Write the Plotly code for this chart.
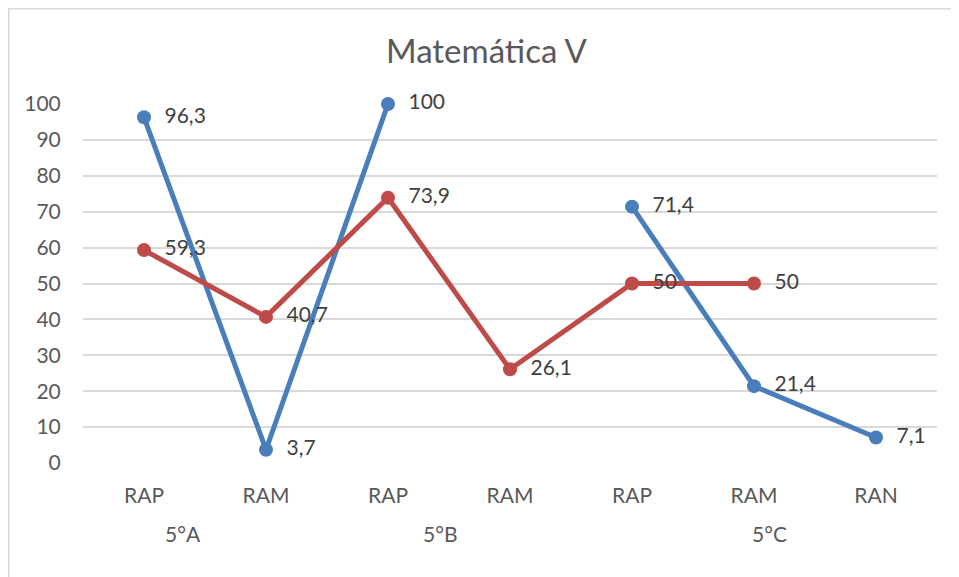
import plotly.graph_objects as go

categories = ["RAP", "RAM", "RAP", "RAM", "RAP", "RAM", "RAN"]
groups = ["5°A", "5°B", "5°C"]
series_blue = [96.3, 3.7, 100, None, 71.4, 21.4, 7.1]
series_red = [59.3, 40.7, 73.9, 26.1, 50, 50, None]

x = list(range(len(categories)))

def fmt(v):
    if v is None:
        return ""
    s = ("%g" % v).replace(".", ",")
    return "  " + s

FONT = "Lato"
BLUE = "#4A7EBB"
RED = "#BE4B48"

# page has an 8px body margin; figure is sized to fit the window
OFF = 8
W, H = 959 - OFF, 577 - OFF
L, T = 83 - OFF, 104 - OFF
PW, PH = 854, 359
R = W - L - PW
B = H - T - PH

def px(sx):
    return (sx - OFF - L) / PW

def py(sy):
    return (T + PH - (sy - OFF)) / PH

fig = go.Figure()
for vals, col in [(series_blue, BLUE), (series_red, RED)]:
    fig.add_trace(go.Scatter(
        x=x, y=vals, mode="lines+markers+text",
        line=dict(color=col, width=5),
        marker=dict(color=col, size=14),
        text=[fmt(v) for v in vals],
        textposition="middle right",
        textfont=dict(family=FONT, size=21, color="#404040"),
        connectgaps=False, cliponaxis=False, showlegend=False,
    ))

group_pos = [0.32, 2.43, 5.13]
for g, gx in zip(groups, group_pos):
    fig.add_annotation(x=gx, y=py(533), xref="x", yref="paper",
                       text=g, showarrow=False, yanchor="middle",
                       font=dict(family=FONT, size=21, color="#595959"))

fig.add_annotation(x=px(487), y=py(50), xref="paper", yref="paper",
                   text="Matemática V", showarrow=False, yanchor="middle",
                   font=dict(family=FONT, size=33, color="#595959"))

fig.add_shape(type="rect", xref="paper", yref="paper",
              x0=px(8.8), x1=px(990),
              y0=py(620), y1=py(8.8),
              line=dict(color="#D9D9D9", width=1.5), layer="below")

fig.update_layout(
    width=W, height=H,
    margin=dict(l=L, r=R, t=T, b=B),
    paper_bgcolor="white", plot_bgcolor="white",
    separators=",.",
    font=dict(family=FONT, color="#595959"),
    xaxis=dict(tickmode="array", tickvals=x, ticktext=categories,
               range=[-0.5, len(categories) - 0.5], showgrid=False,
               zeroline=False, showline=False,
               ticks="outside", ticklen=14, tickcolor="rgba(0,0,0,0)",
               tickfont=dict(family=FONT, size=21, color="#595959")),
    yaxis=dict(range=[0, 100], dtick=10, showgrid=True, gridcolor="#D9D9D9",
               gridwidth=1.5, zeroline=False, showline=False,
               ticks="outside", ticklen=17, tickcolor="rgba(0,0,0,0)",
               tickfont=dict(family=FONT, size=21, color="#595959")),
)

fig.write_html("out.html")
